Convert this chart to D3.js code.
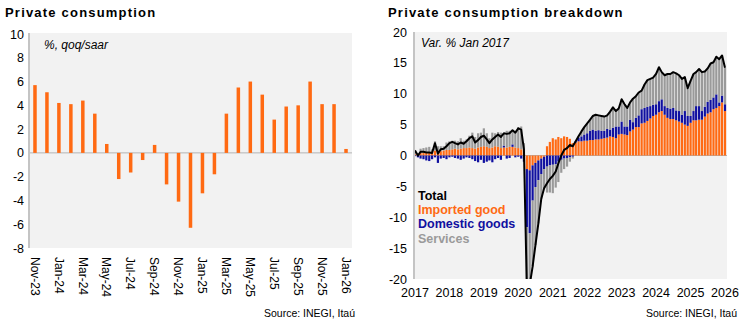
<!DOCTYPE html>
<html>
<head>
<meta charset="utf-8">
<script src="https://cdn.jsdelivr.net/npm/d3@7"></script>
<style>
    body {
        margin: 0;
        background: #fff;
        font-family: 'Liberation Sans', Arial, sans-serif;
    }
    svg text {
        font-family: 'Liberation Sans', Arial, sans-serif;
    }
</style>
</head>
<body>
<svg id="chart" width="750" height="325"></svg>
<script>
    // left panel: private consumption, % qoq/saar
    var qoqMonths = ['Nov-23', 'Dec-23', 'Jan-24', 'Feb-24', 'Mar-24', 'Apr-24', 'May-24', 'Jun-24', 'Jul-24',
        'Aug-24', 'Sep-24', 'Oct-24', 'Nov-24', 'Dec-24', 'Jan-25', 'Feb-25', 'Mar-25', 'Apr-25', 'May-25',
        'Jun-25', 'Jul-25', 'Aug-25', 'Sep-25', 'Oct-25', 'Nov-25', 'Dec-25', 'Jan-26'];
    var qoqValues = [5.7, 5.1, 4.2, 4.1, 4.4, 3.3, 0.75, -2.2, -1.65, -0.6, 0.67, -2.65, -4.1, -6.3, -3.4, -1.8,
        3.3, 5.5, 6.0, 4.9, 2.8, 3.9, 4.0, 6.0, 4.1, 4.1, 0.33];
    var qoqTicks = [10, 8, 6, 4, 2, 0, -2, -4, -6, -8];

    // right panel: breakdown, var. % vs Jan 2017, monthly Jan-2017 .. Jan-2026
    var imported = [0.2, 0.3, 0.4, 0.4, 0.5, 0.6, 0.6, 0.8, 0.6, 0.7, 0.8, 0.9,
        0.9, 1.0, 1.1, 1.0, 1.1, 1.2, 1.2, 1.3, 1.2, 1.1, 1.3, 1.4,
        1.5, 1.4, 1.2, 1.3, 1.5, 1.4, 1.2, 1.3, 1.3, 1.4, 1.4, 1.3,
        1.2, 1.0, 0.5, -2.2, -2.4, -1.6, -1.2, -0.8, -0.5, -0.2, 1.5, 2.2,
        2.8, 2.6, 3.0, 2.8, 3.1, 3.0, 2.7, 2.0, 2.1, 2.3, 2.3, 2.4,
        2.4, 2.5, 2.5, 2.6, 2.6, 2.7, 2.8, 2.9, 3.1, 3.0, 2.8, 3.4,
        3.5, 3.4, 3.3, 3.9, 4.2, 4.6, 4.6, 5.2, 5.3, 5.6, 6.0, 6.4,
        6.6, 7.0, 7.2, 6.6, 6.1, 5.9, 5.9, 5.7, 5.5, 5.3, 5.0, 4.8,
        5.3, 5.7, 5.7, 5.8, 5.8, 6.3, 6.8, 7.0, 7.5, 7.7, 8.0, 8.6,
        7.2];
    var domestic = [-0.1, -0.3, -0.5, -0.6, -0.8, -0.9, -0.6, -0.3, -1.2, -0.5, -0.4, -0.6,
        -0.3, -0.2, -0.4, -0.5, -0.7, -0.5, -0.3, -0.4, -0.6, -0.9, -1.1, -0.7,
        -1.2, -1.0, -0.8, -1.1, -0.6, -0.4, -0.7, 0.3, -0.5, -0.4, 0.4, -0.3,
        -0.2, -0.5, -1.0, -9.4, -10.2, -5.7, -3.9, -3.2, -2.5, -2.0, -1.8, -1.6,
        -1.5, -1.4, -1.0, -0.7, -0.5, -0.4, -0.3, -0.2, 0.2, 0.6, 0.8, 1.0,
        1.2, 1.5, 1.7, 1.4, 1.5, 1.3, 1.2, 1.4, 1.1, 1.5, 1.9, 1.3,
        2.0, 1.3, 1.4, 1.9, 1.2, 1.5, 1.9, 2.3, 2.4, 2.3, 2.0, 1.8,
        1.7, 1.8, 1.9, 1.4, 1.6, 1.7, 1.8, 1.6, 1.7, 1.3, 2.2, 1.6,
        1.1, 1.5, 2.3, 2.2, 1.4, 1.6, 1.9, 2.0, 1.9, 2.2, 0.6, 1.1,
        1.1];
    var services = [0.7, 0.0, 0.7, 0.8, 0.8, 0.8, 0.4, 1.5, 0.9, 0.8, 0.7, 1.2,
        1.4, 1.4, 1.3, 1.3, 1.7, 1.2, 1.4, 1.9, 2.5, 1.9, 2.3, 2.3,
        2.9, 2.2, 1.6, 2.4, 2.1, 2.4, 2.5, 2.0, 2.7, 2.6, 2.3, 2.7,
        3.4, 3.7, 1.5, -9.9, -8.4, -10.7, -9.4, -7.0, -4.0, -3.1, -4.2, -4.4,
        -4.6, -3.8, -3.3, -2.1, -1.7, -1.4, -0.7, -0.3, 0.0, 0.2, 0.8, 1.2,
        1.6, 1.8, 2.2, 2.6, 2.4, 2.4, 2.3, 2.2, 2.9, 3.3, 2.5, 2.9,
        3.6, 3.6, 3.0, 2.8, 3.8, 3.5, 3.7, 3.0, 3.8, 4.3, 4.4, 4.4,
        4.9, 5.5, 4.4, 5.0, 5.5, 5.6, 5.8, 6.0, 5.8, 5.8, 5.5, 4.5,
        5.7, 6.0, 5.5, 6.0, 6.3, 5.7, 5.4, 5.9, 5.7, 6.1, 7.0, 6.5,
        5.9];
    var total = [0.8, 0.0, 0.6, 0.6, 0.5, 0.5, 0.4, 2.0, 0.3, 1.0, 1.1, 1.5,
        2.0, 2.2, 2.0, 1.8, 2.1, 1.9, 2.3, 2.8, 3.1, 2.1, 2.5, 3.0,
        3.2, 2.6, 2.0, 2.6, 3.0, 3.4, 3.0, 3.6, 3.5, 3.6, 4.1, 3.7,
        4.4, 4.2, 1.0, -21.5, -21.0, -18.0, -14.5, -11.0, -7.0, -5.3, -4.5, -3.8,
        -3.3, -2.6, -1.3, 0.0, 0.9, 1.2, 1.7, 1.5, 2.3, 3.1, 3.9, 4.6,
        5.2, 5.8, 6.4, 6.6, 6.5, 6.4, 6.3, 6.5, 7.1, 7.8, 7.2, 7.6,
        9.1, 8.3, 7.7, 8.6, 9.2, 9.6, 10.2, 10.5, 11.5, 12.2, 12.4, 12.6,
        13.2, 14.3, 13.5, 13.0, 13.2, 13.2, 13.5, 13.3, 13.0, 12.4, 12.7, 10.9,
        12.1, 13.2, 13.5, 14.0, 13.5, 13.6, 14.1, 14.9, 15.1, 16.0, 15.6, 16.2,
        14.2];
    var breakdownTicks = [20, 15, 10, 5, 0, -5, -10, -15, -20];

    var legendItems = [
        { label: 'Total', color: '#000000' },
        { label: 'Imported good', color: '#ff6a13' },
        { label: 'Domestic goods', color: '#1010a0' },
        { label: 'Services', color: '#9a9a9a' }
    ];

    var orange = '#ff6a13';
    var blue = '#1010a0';
    var grey = '#9a9a9a';
    var plotBg = '#f2f2f2';
    var axisGrey = '#c4c4c4';

    var svg = d3.select('#chart');

    // ---------- left panel ----------
    var left = { x0: 29, x1: 352, y0: 33, y1: 248 };

    svg.append('text')
        .attr('x', 5).attr('y', 17)
        .style('font-size', '13px').style('font-weight', 'bold').style('letter-spacing', '1.2px')
        .text('Private consumption');

    svg.append('rect')
        .attr('x', left.x0).attr('y', left.y0)
        .attr('width', left.x1 - left.x0).attr('height', left.y1 - left.y0)
        .attr('fill', plotBg);

    var xq = d3.scalePoint()
        .domain(qoqMonths)
        .range([left.x0, left.x1])
        .padding(0.5);

    var yq = d3.scaleLinear()
        .domain([-8, 10])
        .range([left.y1, left.y0 + 1]);

    svg.append('line')
        .attr('x1', left.x0).attr('x2', left.x1)
        .attr('y1', yq(0)).attr('y2', yq(0))
        .attr('stroke', '#b4b4b4').attr('stroke-width', 1);

    svg.selectAll('.qbar')
        .data(qoqValues)
        .enter().append('rect')
        .attr('class', 'qbar')
        .attr('x', function(d, i) { return xq(qoqMonths[i]) - 1.75; })
        .attr('width', 3.5)
        .attr('y', function(d) { return yq(Math.max(0, d)); })
        .attr('height', function(d) { return Math.abs(yq(d) - yq(0)); })
        .attr('fill', orange);

    svg.append('line')
        .attr('x1', left.x0).attr('x2', left.x0)
        .attr('y1', left.y0).attr('y2', left.y1)
        .attr('stroke', axisGrey).attr('stroke-width', 2);

    svg.selectAll('.qytick')
        .data(qoqTicks)
        .enter().append('text')
        .attr('class', 'qytick')
        .attr('x', 24).attr('y', function(d) { return yq(d); })
        .attr('dy', '0.36em')
        .attr('text-anchor', 'end')
        .style('font-size', '12.5px')
        .text(function(d) { return d; });

    svg.selectAll('.qxtick')
        .data(qoqMonths.filter(function(d, i) { return i % 2 === 0; }))
        .enter().append('text')
        .attr('class', 'qxtick')
        .attr('transform', function(d) { return 'translate(' + xq(d) + ',' + 257 + ')rotate(90)'; })
        .attr('dy', '0.36em')
        .style('font-size', '12px')
        .text(function(d) { return d; });

    svg.append('text')
        .attr('x', 44).attr('y', 49)
        .style('font-size', '12px').style('font-style', 'italic')
        .text('%, qoq/saar');

    svg.append('text')
        .attr('x', 355).attr('y', 317)
        .attr('text-anchor', 'end')
        .style('font-size', '10.5px')
        .text('Source: INEGI, Itaú');

    // ---------- right panel ----------
    var right = { x0: 414, x1: 727, y0: 32, y1: 279 };

    svg.append('text')
        .attr('x', 388).attr('y', 17)
        .style('font-size', '13px').style('font-weight', 'bold').style('letter-spacing', '1.2px')
        .text('Private consumption breakdown');

    svg.append('rect')
        .attr('x', right.x0).attr('y', right.y0)
        .attr('width', right.x1 - right.x0).attr('height', right.y1 - right.y0)
        .attr('fill', plotBg);

    svg.append('clipPath').attr('id', 'clipR')
        .append('rect')
        .attr('x', right.x0).attr('y', right.y0)
        .attr('width', right.x1 - right.x0).attr('height', right.y1 - right.y0);

    var months = d3.timeMonth.range(new Date(2017, 0, 1), new Date(2026, 1, 1));

    var rows = months.map(function(m, i) {
        return { date: m, imp: imported[i], dom: domestic[i], svc: services[i], tot: total[i] };
    });

    var xr = d3.scaleTime()
        .domain([new Date(2017, 0, 1), new Date(2026, 0, 1)])
        .range([415, 725]);

    var yr = d3.scaleLinear()
        .domain([-20, 20])
        .range([right.y1, right.y0]);

    svg.append('line')
        .attr('x1', right.x0).attr('x2', right.x1)
        .attr('y1', yr(0)).attr('y2', yr(0))
        .attr('stroke', '#b4b4b4').attr('stroke-width', 1);

    var stack = d3.stack()
        .keys(['imp', 'dom', 'svc'])
        .offset(d3.stackOffsetDiverging);
    var series = stack(rows);
    var colors = { imp: orange, dom: blue, svc: grey };

    var plot = svg.append('g').attr('clip-path', 'url(#clipR)');

    plot.selectAll('.layer')
        .data(series)
        .enter().append('g')
        .attr('class', 'layer')
        .attr('fill', function(s) { return colors[s.key]; })
        .selectAll('rect')
        .data(function(s) { return s; })
        .enter().append('rect')
        .attr('x', function(d) { return xr(d.data.date) - 1.1; })
        .attr('width', 2.2)
        .attr('y', function(d) { return yr(Math.max(d[0], d[1])); })
        .attr('height', function(d) { return Math.abs(yr(d[0]) - yr(d[1])); });

    plot.append('path')
        .datum(rows)
        .attr('fill', 'none')
        .attr('stroke', '#000')
        .attr('stroke-width', 2)
        .attr('stroke-linejoin', 'round')
        .attr('d', d3.line()
            .x(function(d) { return xr(d.date); })
            .y(function(d) { return yr(d.tot); }));

    svg.append('line')
        .attr('x1', right.x0).attr('x2', right.x0)
        .attr('y1', right.y0).attr('y2', right.y1)
        .attr('stroke', axisGrey).attr('stroke-width', 2);

    svg.selectAll('.rytick')
        .data(breakdownTicks)
        .enter().append('text')
        .attr('class', 'rytick')
        .attr('x', 407).attr('y', function(d) { return yr(d); })
        .attr('dy', '0.36em')
        .attr('text-anchor', 'end')
        .style('font-size', '12.5px')
        .text(function(d) { return d; });

    svg.selectAll('.rxtick')
        .data(xr.ticks(d3.timeYear))
        .enter().append('text')
        .attr('class', 'rxtick')
        .attr('x', function(d) { return xr(d); })
        .attr('y', 297)
        .attr('text-anchor', 'middle')
        .style('font-size', '12.5px')
        .text(d3.timeFormat('%Y'));

    svg.append('text')
        .attr('x', 421).attr('y', 47)
        .style('font-size', '12px').style('font-style', 'italic')
        .text('Var. % Jan 2017');

    svg.selectAll('.legend')
        .data(legendItems)
        .enter().append('text')
        .attr('class', 'legend')
        .attr('x', 418)
        .attr('y', function(d, i) { return 200 + i * 14.2; })
        .attr('fill', function(d) { return d.color; })
        .style('font-size', '12.5px').style('font-weight', 'bold')
        .text(function(d) { return d.label; });

    svg.append('text')
        .attr('x', 737).attr('y', 317)
        .attr('text-anchor', 'end')
        .style('font-size', '10.5px')
        .text('Source: INEGI, Itaú');
</script>
</body>
</html>
